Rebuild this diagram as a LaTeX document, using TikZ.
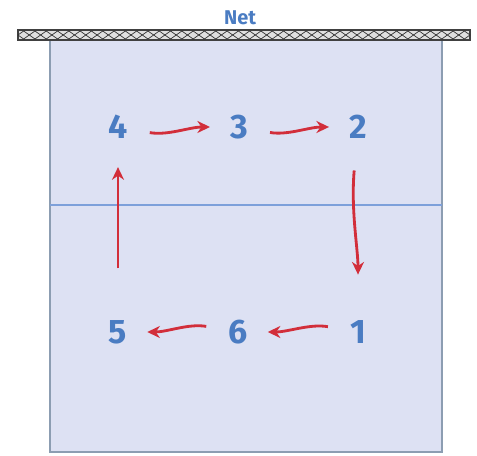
\documentclass[tikz,border=0pt]{standalone}
\usepackage{fontspec}
\setmainfont{Fira Sans}
\usepackage{xcolor}
\usepackage{tikz}
\usetikzlibrary{arrows.meta, positioning}

\definecolor{courtfill}{HTML}{DDE1F3}
\definecolor{courtline}{HTML}{8C9DB2}
\definecolor{midline}{HTML}{7DA0DA}
\definecolor{numblue}{HTML}{4A7CC2}
\definecolor{arrowred}{HTML}{D22E3A}

\begin{document}
\begin{tikzpicture}[
    x=0.03cm, y=-0.03cm,
    court/.style={draw=courtline, line width=1.8pt, fill=courtfill},
    netband/.style={draw=gray!50!black, line width=0.9pt, fill=gray!25},
    player/.style={text=numblue, font=\fontsize{29}{29}\selectfont\bfseries, inner sep=2pt},
    arrow/.style={-{Stealth[length=3.8mm, width=3.6mm]}, draw=arrowred, line width=2.4pt, shorten <=17pt, shorten >=15pt},
]
    \useasboundingbox (0,0) rectangle (477,456);

    % court and net
    \draw[court] (50,38) rectangle (442,452);
    \draw[midline, line width=1pt] (50,205) -- (442,205);
    \draw[netband] (18,30) rectangle (470,40);
    \foreach \i in {0,...,39}
        \draw[gray!40!black, line width=0.6pt] ({18+11.3*\i},35) -- ({23.65+11.3*\i},31) -- ({29.3+11.3*\i},35) -- ({23.65+11.3*\i},39) -- cycle;
    \node[text=numblue, font=\fontsize{17}{17}\selectfont\bfseries, inner sep=0pt] (net) at (240,18) {Net};

    % rotation positions
    \node[player] (p4) at (118,127) {4};
    \node[player] (p3) at (239,127) {3};
    \node[player] (p2) at (358,127) {2};
    \node[player] (p5) at (118,332) {5};
    \node[player] (p6) at (238,332) {6};
    \node[player] (p1) at (358,332) {1};

    \draw[arrow] (p4) to[out=-10, in=180] (p3);
    \draw[arrow] (p3) to[out=-10, in=180] (p2);
    \draw[arrow, shorten <=25pt, shorten >=37pt] (p2) to[out=-95, in=90] (p1);
    \draw[arrow] (p1) to[out=170, in=0] (p6);
    \draw[arrow] (p6) to[out=170, in=0] (p5);
    \draw[arrow, shorten <=42pt, shorten >=22pt] (p5) to[out=90, in=-90] (p4);
\end{tikzpicture}
\end{document}
